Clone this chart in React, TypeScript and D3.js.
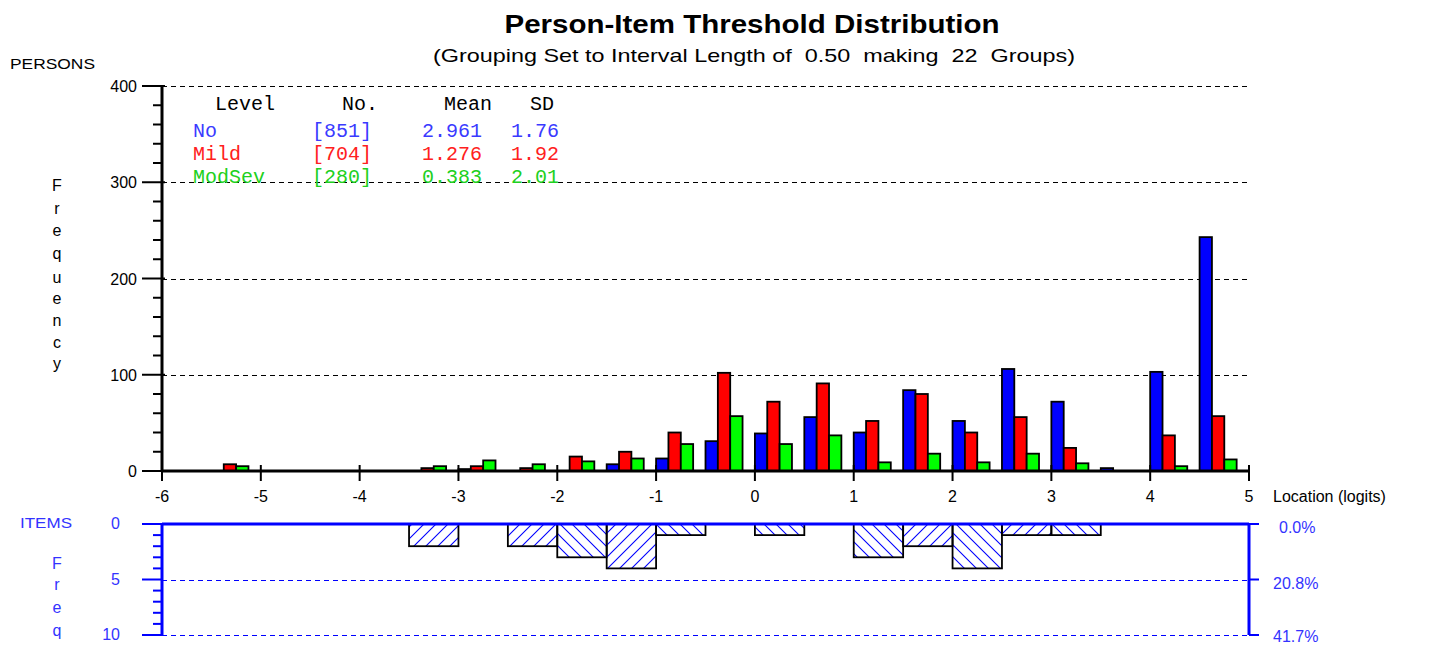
import React from "react";
import * as d3 from "d3";

const groupStarts = [-6, -5.5, -5, -4.5, -4, -3.5, -3, -2.5, -2, -1.5, -1, -0.5, 0, 0.5, 1, 1.5, 2, 2.5, 3, 3.5, 4, 4.5];
const noCounts = [0, 0, 0, 0, 0, 0, 2, 0, 0, 7, 13, 31, 39, 56, 40, 84, 52, 106, 72, 3, 103, 243];
const mildCounts = [0, 7, 0, 0, 0, 3, 5, 3, 15, 20, 40, 102, 72, 91, 52, 80, 40, 56, 24, 0, 37, 57];
const modSevCounts = [0, 5, 0, 0, 0, 5, 11, 7, 10, 13, 28, 57, 28, 37, 9, 18, 9, 18, 8, 0, 5, 12];
const itemCounts = [0, 0, 0, 0, 0, 2, 0, 2, 3, 4, 1, 0, 1, 0, 3, 2, 4, 1, 1, 0, 0, 0];

const xTicks = [-6, -5, -4, -3, -2, -1, 0, 1, 2, 3, 4, 5];
const yTicks = [0, 100, 200, 300, 400];
const yMinorTicks = [20, 40, 60, 80, 120, 140, 160, 180, 220, 240, 260, 280, 320, 340, 360, 380];
const itemTicks = [0, 5, 10];
const itemMinorTicks = [1, 2, 3, 4, 6, 7, 8, 9];
const pctLabels = ["0.0%", "20.8%", "41.7%"];

const legendLevels = ["No", "Mild", "ModSev"];
const legendN = ["[851]", "[704]", "[280]"];
const legendMean = ["2.961", "1.276", "0.383"];
const legendSD = ["1.76", "1.92", "2.01"];
const seriesColors = ["#0000ff", "#ff0000", "#00ff00"];
const legendTextColors = ["#3a3aff", "#ff2020", "#20d020"];

const FONT = "'Liberation Sans', Arial, sans-serif";
const MONO = "'Liberation Mono', 'Courier New', monospace";

export default function App() {
  const x = d3.scaleLinear().domain([-6, 5]).range([162, 1249]);
  const y = d3.scaleLinear().domain([0, 400]).range([471, 86]);
  const yi = d3.scaleLinear().domain([0, 10]).range([524, 635]);
  const groupW = 0.5;
  const barW = groupW / 4;
  const series = [noCounts, mildCounts, modSevCounts];
  const freqLetters = "Frequency".split("");
  const freqLettersY = [185, 208, 230, 253, 277, 298, 320, 342, 363];
  const itemLetters = "Freq".split("");
  const itemLettersY = [563, 584, 607, 630];
  const r = (v: number) => Math.round(v) + 0.5;

  return (
    <svg
      width={1430}
      height={645}
      style={{ position: "absolute", left: 0, top: 0, background: "#fff" }}
      fontFamily={FONT}
    >
      <defs>
        <pattern id="hatchF" width={12} height={12} patternUnits="userSpaceOnUse">
          <path d="M-3,15 L15,-3 M-3,3 L3,-3 M9,15 L15,9" stroke="#0000ff" strokeWidth={1.1} />
        </pattern>
        <pattern id="hatchB" width={12} height={12} patternUnits="userSpaceOnUse">
          <path d="M-3,-3 L15,15 M9,-3 L15,3 M-3,9 L3,15" stroke="#0000ff" strokeWidth={1.1} />
        </pattern>
      </defs>
      <rect x={0} y={0} width={1430} height={645} fill="#fff" />

      {/* titles */}
      <text x={752} y={33} textAnchor="middle" fontSize={26} fontWeight="bold" textLength={495} lengthAdjust="spacingAndGlyphs">
        Person-Item Threshold Distribution
      </text>
      <text x={754} y={62} textAnchor="middle" fontSize={19} textLength={642} lengthAdjust="spacingAndGlyphs" style={{ whiteSpace: "pre" }}>
        (Grouping Set to Interval Length of  0.50  making  22  Groups)
      </text>
      <text x={10} y={69} fontSize={15} textLength={85} lengthAdjust="spacingAndGlyphs">PERSONS</text>

      {/* grid */}
      {yTicks.filter((t) => t > 0).map((t) => (
        <line key={"g" + t} x1={x(-6)} x2={x(5)} y1={r(y(t))} y2={r(y(t))} stroke="#000" strokeWidth={1.3} strokeDasharray="5,4" shapeRendering="crispEdges" />
      ))}

      {/* legend */}
      <g fontFamily={MONO} fontSize={20}>
        <text x={215} y={110} fill="#000">Level</text>
        <text x={342} y={110} fill="#000">No.</text>
        <text x={444} y={110} fill="#000">Mean</text>
        <text x={530} y={110} fill="#000">SD</text>
        {legendLevels.map((l, i) => (
          <g key={l} fill={legendTextColors[i]}>
            <text x={193} y={137 + i * 23}>{l}</text>
            <text x={312} y={137 + i * 23}>{legendN[i]}</text>
            <text x={422} y={137 + i * 23}>{legendMean[i]}</text>
            <text x={511} y={137 + i * 23}>{legendSD[i]}</text>
          </g>
        ))}
      </g>

      {/* bars */}
      {series.map((vals, si) =>
        groupStarts.map((g, gi) =>
          vals[gi] > 0 ? (
            <rect
              key={si + "-" + gi}
              x={x(g + si * barW)}
              y={y(vals[gi])}
              width={x(g + (si + 1) * barW) - x(g + si * barW)}
              height={y(0) - y(vals[gi])}
              fill={seriesColors[si]}
              stroke="#000"
              strokeWidth={1.8}
            />
          ) : null
        )
      )}

      {/* y axis */}
      <line x1={x(-6)} x2={x(-6)} y1={y(400)} y2={y(0)} stroke="#000" strokeWidth={3} />
      {yTicks.map((t) => (
        <g key={"yt" + t}>
          <line x1={142} x2={165} y1={y(t)} y2={y(t)} stroke="#000" strokeWidth={2} />
          <text x={137} y={y(t) + 6} textAnchor="end" fontSize={16}>{t}</text>
        </g>
      ))}
      {yMinorTicks.map((t) => (
        <line key={"ym" + t} x1={153} x2={162} y1={y(t)} y2={y(t)} stroke="#000" strokeWidth={2} />
      ))}
      {freqLetters.map((c, i) => (
        <text key={"fl" + i} x={57} y={freqLettersY[i] + 6} textAnchor="middle" fontSize={16}>{c}</text>
      ))}

      {/* x axis */}
      <line x1={x(-6)} x2={x(5)} y1={y(0)} y2={y(0)} stroke="#000" strokeWidth={3} />
      {xTicks.map((t) => (
        <g key={"xt" + t}>
          <line x1={x(t)} x2={x(t)} y1={y(0) - 6} y2={y(0) + 10} stroke="#000" strokeWidth={2} />
          <text x={x(t)} y={502} textAnchor="middle" fontSize={16}>{t}</text>
        </g>
      ))}
      <text x={1273} y={502} fontSize={16}>Location (logits)</text>

      {/* items panel */}
      {itemTicks.filter((t) => t > 0).map((t) => (
        <line key={"ig" + t} x1={x(-6)} x2={x(5)} y1={r(yi(t))} y2={r(yi(t))} stroke="#0000ff" strokeWidth={1.3} strokeDasharray="5,4" shapeRendering="crispEdges" />
      ))}
      {groupStarts.map((g, gi) =>
        itemCounts[gi] > 0 ? (
          <rect
            key={"it" + gi}
            x={x(g)}
            y={yi(0)}
            width={x(g + groupW) - x(g)}
            height={yi(itemCounts[gi]) - yi(0)}
            fill={`url(#${gi % 2 === 1 ? "hatchF" : "hatchB"})`}
            stroke="#000"
            strokeWidth={1.8}
          />
        ) : null
      )}
      <line x1={x(-6)} x2={x(5)} y1={yi(0)} y2={yi(0)} stroke="#0000ff" strokeWidth={3} />
      <line x1={x(-6)} x2={x(-6)} y1={yi(0)} y2={yi(10)} stroke="#0000ff" strokeWidth={3} />
      <line x1={x(5)} x2={x(5)} y1={yi(0)} y2={yi(10)} stroke="#0000ff" strokeWidth={3} />
      {itemTicks.map((t, i) => (
        <g key={"iyt" + t}>
          <line x1={142} x2={162} y1={yi(t)} y2={yi(t)} stroke="#0000ff" strokeWidth={2} />
          <line x1={x(5)} x2={x(5) + 10} y1={yi(t)} y2={yi(t)} stroke="#0000ff" strokeWidth={2} />
          <text x={120} y={yi(t) + 5} textAnchor="end" fontSize={16} fill="#3333ff">{t}</text>
          <text x={i === 0 ? 1279 : 1273} y={i === 2 ? 642 : yi(t) + 9} fontSize={16} fill="#3333ff">{pctLabels[i]}</text>
        </g>
      ))}
      {itemMinorTicks.map((t) => (
        <line key={"im" + t} x1={153} x2={162} y1={yi(t)} y2={yi(t)} stroke="#0000ff" strokeWidth={2} />
      ))}
      <text x={20} y={528} fontSize={15} fill="#3333ff" textLength={52} lengthAdjust="spacingAndGlyphs">ITEMS</text>
      {itemLetters.map((c, i) => (
        <text key={"il" + i} x={57} y={itemLettersY[i] + 6} textAnchor="middle" fontSize={16} fill="#3333ff">{c}</text>
      ))}
    </svg>
  );
}
